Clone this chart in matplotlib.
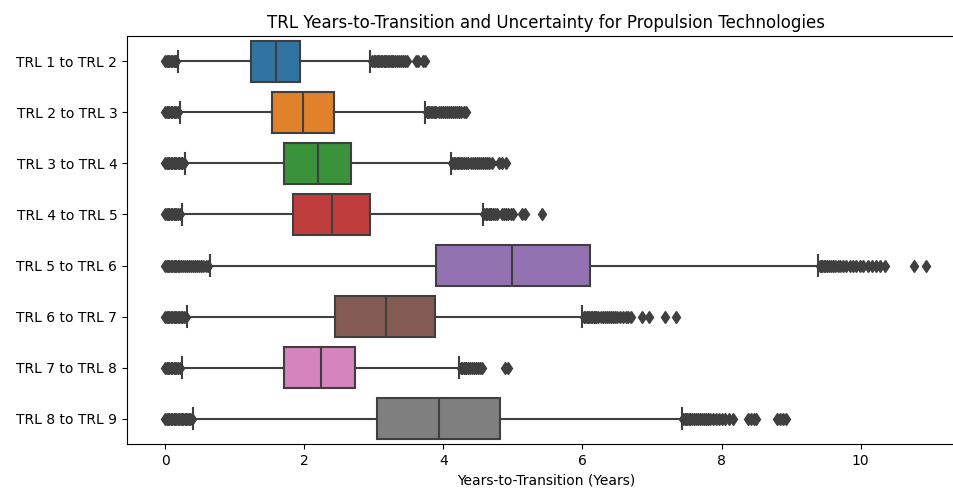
import matplotlib.pyplot as plt

labels = ['TRL 1 to TRL 2', 'TRL 2 to TRL 3', 'TRL 3 to TRL 4', 'TRL 4 to TRL 5',
          'TRL 5 to TRL 6', 'TRL 6 to TRL 7', 'TRL 7 to TRL 8', 'TRL 8 to TRL 9']

# box summary (years)
whislo = [0.18, 0.21, 0.29, 0.24, 0.65, 0.32, 0.24, 0.40]
q1 = [1.23, 1.53, 1.71, 1.84, 3.89, 2.44, 1.71, 3.05]
med = [1.59, 1.98, 2.20, 2.40, 4.99, 3.17, 2.24, 3.93]
q3 = [1.94, 2.43, 2.67, 2.95, 6.11, 3.88, 2.73, 4.81]
whishi = [2.95, 3.74, 4.11, 4.57, 9.39, 6.00, 4.23, 7.43]

# outliers for each transition
fliers = [
    [0.0, 0.02, 0.04, 0.06, 0.08, 0.1, 0.12, 0.14, 0.16,
     2.98, 3.0, 3.02, 3.04, 3.06, 3.08, 3.1, 3.12, 3.14, 3.16, 3.18, 3.2, 3.22, 3.24,
     3.26, 3.28, 3.3, 3.33, 3.36, 3.39, 3.42, 3.45, 3.48, 3.6, 3.63, 3.71, 3.74],
    [0.0, 0.02, 0.04, 0.06, 0.08, 0.1, 0.12, 0.14, 0.16, 0.19,
     3.76, 3.78, 3.8, 3.82, 3.84, 3.86, 3.88, 3.9, 3.93, 3.96, 3.99, 4.02, 4.05, 4.08,
     4.11, 4.14, 4.17, 4.2, 4.23, 4.26, 4.29, 4.32],
    [0.0, 0.02, 0.04, 0.06, 0.08, 0.1, 0.12, 0.14, 0.16, 0.18, 0.2, 0.22, 0.24, 0.27,
     4.13, 4.15, 4.17, 4.19, 4.21, 4.23, 4.25, 4.27, 4.3, 4.33, 4.36, 4.39, 4.42, 4.45,
     4.48, 4.51, 4.54, 4.57, 4.6, 4.63, 4.66, 4.7, 4.8, 4.84, 4.9],
    [0.0, 0.02, 0.04, 0.06, 0.08, 0.1, 0.12, 0.14, 0.16, 0.18, 0.21,
     4.59, 4.61, 4.63, 4.65, 4.67, 4.69, 4.71, 4.74, 4.77, 4.84, 4.87, 4.9, 4.93, 4.97,
     5.0, 5.13, 5.17, 5.42],
    [0.0, 0.02, 0.04, 0.06, 0.08, 0.1, 0.12, 0.14, 0.16, 0.18, 0.2, 0.22, 0.25, 0.28,
     0.31, 0.34, 0.37, 0.4, 0.43, 0.46, 0.49, 0.52, 0.55, 0.58, 0.61,
     9.41, 9.43, 9.45, 9.47, 9.49, 9.51, 9.54, 9.57, 9.6, 9.63, 9.67, 9.71, 9.75, 9.79,
     9.84, 9.89, 9.94, 9.99, 10.04, 10.1, 10.16, 10.22, 10.28, 10.35, 10.76, 10.94],
    [0.0, 0.02, 0.04, 0.06, 0.08, 0.1, 0.12, 0.14, 0.16, 0.18, 0.2, 0.22, 0.24, 0.27, 0.3,
     6.02, 6.04, 6.06, 6.08, 6.1, 6.12, 6.14, 6.16, 6.18, 6.2, 6.23, 6.26, 6.29, 6.32,
     6.35, 6.38, 6.41, 6.44, 6.47, 6.5, 6.54, 6.58, 6.62, 6.66, 6.7, 6.85, 6.96, 7.18,
     7.35],
    [0.0, 0.02, 0.04, 0.06, 0.08, 0.1, 0.12, 0.14, 0.16, 0.18, 0.21,
     4.25, 4.27, 4.29, 4.31, 4.33, 4.35, 4.38, 4.41, 4.44, 4.47, 4.5, 4.53, 4.56, 4.89,
     4.93],
    [0.0, 0.02, 0.04, 0.06, 0.08, 0.1, 0.12, 0.14, 0.16, 0.18, 0.2, 0.22, 0.24, 0.26,
     0.28, 0.3, 0.32, 0.34, 0.36, 0.38,
     7.45, 7.47, 7.49, 7.51, 7.53, 7.55, 7.57, 7.6, 7.63, 7.66, 7.69, 7.72, 7.75, 7.78,
     7.81, 7.84, 7.88, 7.92, 7.96, 8.0, 8.05, 8.1, 8.16, 8.38, 8.42, 8.46, 8.5, 8.8,
     8.84, 8.88, 8.92],
]

colors = ['#3274a1', '#e1812c', '#3a923a', '#c03d3e',
          '#9372b2', '#845b53', '#d684bd', '#7f7f7f']

stats = []
for i in range(len(labels)):
    stats.append({'whislo': whislo[i], 'q1': q1[i], 'med': med[i], 'q3': q3[i],
                  'whishi': whishi[i], 'fliers': fliers[i]})

fig = plt.figure(figsize=(9.54, 4.91), dpi=100)
ax = fig.add_axes([0.1331, 0.0957, 0.8784, 0.831])

line_c = '#3f3f3f'
bp = ax.bxp(stats, positions=range(len(labels)), vert=False, widths=0.8,
            patch_artist=True, capwidths=0.4,
            boxprops=dict(edgecolor=line_c, linewidth=1.5),
            whiskerprops=dict(color=line_c, linewidth=1.5),
            capprops=dict(color=line_c, linewidth=1.5),
            medianprops=dict(color=line_c, linewidth=1.5),
            flierprops=dict(marker='d', markersize=6, markerfacecolor=line_c,
                            markeredgecolor=line_c, linestyle='none'))
for patch, c in zip(bp['boxes'], colors):
    patch.set_facecolor(c)

ax.spines['right'].set_visible(False)
ax.set_yticks(range(len(labels)))
ax.set_yticklabels(labels)
ax.set_ylim(7.5, -0.5)
ax.set_xlim(-0.55, 11.5)
ax.set_xticks([0, 2, 4, 6, 8, 10])
ax.set_xlabel('Years-to-Transition (Years)')
ax.set_title('TRL Years-to-Transition and Uncertainty for Propulsion Technologies')

plt.savefig('out.png', dpi=100)
